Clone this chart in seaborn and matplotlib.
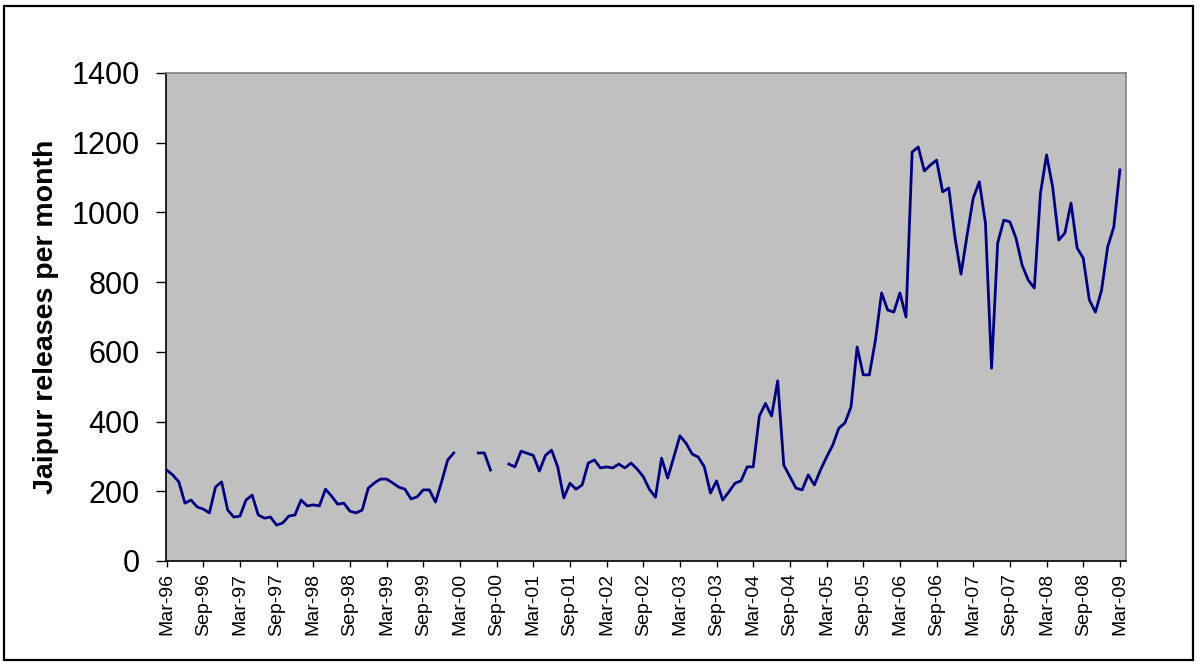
import numpy as np
import pandas as pd
import seaborn as sns
import matplotlib.pyplot as plt
from matplotlib.patches import Rectangle

# Monthly releases, Mar-96 .. Mar-09 (NaN = missing months)
releases_1996_1999 = [261, 247, 227, 166, 175, 155, 149, 138, 212, 227,
                      146, 126, 129, 175, 189, 132, 123, 126, 103, 109, 129, 132,
                      175, 158, 161, 158, 206, 186, 163, 166, 143, 138, 146, 209,
                      224, 235, 235, 224, 212, 206, 178, 184, 204, 204, 169, 227]
releases_2000 = [290, 310, np.nan, np.nan, np.nan, 310, 310, 261, np.nan, np.nan, 278, 270]
releases_2001 = [315, 309, 303, 258, 303, 318, 270, 181, 223, 206, 218, 281]
releases_2002 = [290, 267, 270, 267, 278, 267, 281, 264, 242, 206, 183, 295]
releases_2003 = [238, 298, 359, 338, 307, 298, 270, 195, 230, 175, 198, 223]
releases_2004 = [230, 270, 270, 416, 452, 416, 517, 275, 242, 209, 204, 247]
releases_2005 = [218, 261, 298, 332, 381, 396, 442, 614, 534, 534, 634, 769]
releases_2006 = [720, 714, 769, 700, 1173, 1188, 1119, 1136, 1150, 1059, 1070, 930]
releases_2007 = [823, 935, 1041, 1088, 969, 553, 912, 978, 973, 926, 849, 806]
releases_2008 = [783, 1055, 1165, 1073, 921, 941, 1027, 898, 869, 749, 714, 777]
releases_2009 = [901, 958, 1122]

values = (releases_1996_1999 + releases_2000 + releases_2001 + releases_2002 +
          releases_2003 + releases_2004 + releases_2005 + releases_2006 +
          releases_2007 + releases_2008 + releases_2009)

months = pd.date_range('1996-03-01', '2009-03-01', freq='MS')
tick_labels = [m.strftime('%b-%y') for m in months[::6]]

df = pd.DataFrame({'month': np.arange(len(values)), 'releases': values})
# break the line where data is missing
df['segment'] = df['releases'].isna().cumsum()
df = df.dropna()

plt.rcParams['font.family'] = ['Liberation Sans', 'DejaVu Sans']

fig = plt.figure(figsize=(12, 6.66), dpi=100)
ax = fig.add_axes([166 / 1200, 105 / 666, 960 / 1200, 488 / 666])

sns.lineplot(data=df, x='month', y='releases', units='segment', estimator=None,
             color='#000080', linewidth=2.0, ax=ax)

ax.set_facecolor('#C0C0C0')
ax.set_xlim(-0.1, 157)
ax.set_ylim(0, 1400)
ax.set_yticks(range(0, 1401, 200))
ax.set_xticks(np.arange(0, len(values), 6))
ax.set_xticklabels(tick_labels, rotation=90)
ax.tick_params(axis='y', labelsize=22, length=7, width=1, pad=12)
ax.tick_params(axis='x', labelsize=14, length=4.5, width=1, pad=4)

ax.set_xlabel('')
ax.set_ylabel('Jaipur releases per month', fontsize=20.5, fontweight='bold',
              labelpad=9)

for side in ['top', 'right']:
    ax.spines[side].set_color('#808080')
    ax.spines[side].set_linewidth(1.2)
for side in ['left', 'bottom']:
    ax.spines[side].set_color('black')
    ax.spines[side].set_linewidth(1.2)

# outer chart border
fig.add_artist(Rectangle((4 / 1200, 6 / 666), 1189 / 1200, 654 / 666,
                         transform=fig.transFigure, fill=False,
                         edgecolor='black', linewidth=1.6))

fig.savefig('out.png', dpi=100)
